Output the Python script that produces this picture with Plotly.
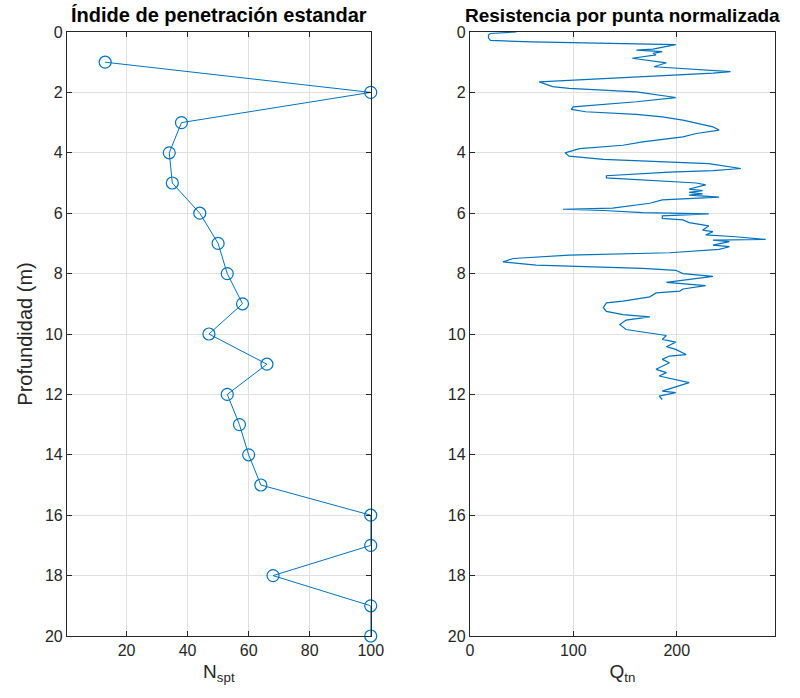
import plotly.graph_objects as go
from plotly.subplots import make_subplots

# Standard penetration test blow counts by depth
spt_depth = [1, 2, 3, 4, 5, 6, 7, 8, 9, 10, 11, 12, 13, 14, 15, 16, 17, 18, 19, 20]
spt_n = [13, 100, 38, 34, 35, 44, 50, 53, 58, 47, 66, 53, 57, 60, 64, 100, 100, 68, 100, 100]

# Normalized cone tip resistance profile
cpt_depth = [
    0.00, 0.02, 0.05, 0.10, 0.20, 0.28, 0.33, 0.42, 0.57, 0.60, 0.65, 0.71, 0.76,
    0.87, 1.02, 1.15, 1.20, 1.31, 1.36, 1.65, 1.81, 1.87, 1.98, 2.17, 2.31, 2.48,
    2.56, 2.64, 2.73, 2.81, 2.92, 3.03, 3.14, 3.25, 3.36, 3.47, 3.64, 3.75, 3.86,
    4.00, 4.11, 4.22, 4.31, 4.36, 4.52, 4.59, 4.64, 4.76, 4.83, 4.94, 5.00, 5.06,
    5.20, 5.25, 5.31, 5.36, 5.40, 5.47, 5.56, 5.67, 5.83, 5.87, 5.91, 5.98, 6.02,
    6.09, 6.17, 6.22, 6.31, 6.42, 6.56, 6.61, 6.72, 6.78, 6.87, 6.89, 6.94, 7.06,
    7.11, 7.20, 7.31, 7.39, 7.50, 7.61, 7.72, 7.83, 7.89, 8.00, 8.09, 8.29, 8.40,
    8.51, 8.58, 8.64, 8.77, 8.91, 8.97, 9.13, 9.25, 9.36, 9.43, 9.54, 9.69, 9.85,
    9.96, 10.05, 10.18, 10.27, 10.42, 10.51, 10.68, 10.73, 10.84, 10.95, 11.17,
    11.28, 11.39, 11.50, 11.61, 11.89, 11.94, 12.06, 12.17,
]
cpt_qtn = [
    45, 30, 20, 18, 18, 20, 60, 199, 177, 161, 186, 177, 180,
    157, 190, 178, 200, 252, 235, 67, 80, 96, 161, 199, 161, 100,
    98, 112, 161, 186, 206, 222, 235, 241, 219, 206, 167, 148, 106,
    92, 96, 129, 193, 231, 262, 235, 193, 132, 132, 193, 219, 228,
    212, 225, 212, 225, 212, 241, 186, 174, 138, 90, 129, 167, 231,
    186, 186, 206, 212, 231, 225, 235, 228, 257, 286, 235, 251, 235,
    251, 241, 193, 96, 42, 32, 64, 167, 199, 206, 235, 190, 228,
    206, 203, 180, 174, 148, 132, 129, 132, 148, 174, 151, 145, 151,
    174, 190, 186, 199, 190, 199, 209, 193, 186, 193, 180,
    190, 183, 199, 212, 186, 199, 183, 186,
]

blue = "#0072BD"
axis_col = "#262626"
grid_col = "#e0e0e0"
font_family = "Liberation Sans, Arial, sans-serif"

fig = make_subplots(rows=1, cols=2, horizontal_spacing=0.14)

fig.add_trace(
    go.Scatter(
        x=spt_n, y=spt_depth, mode="lines+markers",
        line=dict(color=blue, width=1),
        marker=dict(symbol="circle-open", size=12, color=blue, line=dict(width=1.2)),
        cliponaxis=False, showlegend=False,
    ),
    row=1, col=1,
)
fig.add_trace(
    go.Scatter(
        x=cpt_qtn, y=cpt_depth, mode="lines",
        line=dict(color=blue, width=1.2),
        showlegend=False,
    ),
    row=1, col=2,
)

common_axis = dict(
    showline=True, linecolor=axis_col, linewidth=1.2, mirror="ticks",
    ticks="inside", ticklen=5, tickcolor=axis_col, tickwidth=1,
    showgrid=True, gridcolor=grid_col, gridwidth=1, zeroline=False,
    tickfont=dict(family=font_family, size=16, color=axis_col),
)

fig.update_xaxes(
    range=[0.5, 100], tickvals=[20, 40, 60, 80, 100],
    domain=[0.0, 0.429],
    title=dict(text="N<sub>spt</sub>", font=dict(family=font_family, size=19, color=axis_col), standoff=6),
    **common_axis, row=1, col=1,
)
fig.update_xaxes(
    range=[0, 295], tickvals=[0, 100, 200],
    domain=[0.569, 1.0],
    title=dict(text="Q<sub>tn</sub>", font=dict(family=font_family, size=19, color=axis_col), standoff=6),
    **common_axis, row=1, col=2,
)
fig.update_yaxes(
    range=[20, 0], tickvals=list(range(0, 21, 2)),
    title=dict(text="Profundidad (m)", font=dict(family=font_family, size=20, color=axis_col), standoff=6),
    **common_axis, row=1, col=1,
)
fig.update_yaxes(
    range=[20, 0], tickvals=list(range(0, 21, 2)),
    **common_axis, row=1, col=2,
)

fig.add_annotation(
    text="<b>Índide de penetración estandar</b>", x=0.2145, y=1.0,
    xref="paper", yref="paper", xanchor="center", yanchor="bottom",
    yshift=4, showarrow=False,
    font=dict(family=font_family, size=20, color="#000000"),
)
fig.add_annotation(
    text="<b>Resistencia por punta normalizada</b>", x=0.7845, y=1.0,
    xref="paper", yref="paper", xanchor="center", yanchor="bottom",
    yshift=4, showarrow=False,
    font=dict(family=font_family, size=19, color="#000000"),
)

fig.update_layout(
    width=800, height=698,
    margin=dict(l=67, r=20, t=32, b=62),
    paper_bgcolor="white", plot_bgcolor="white",
    font=dict(family=font_family, color=axis_col),
)

fig.write_html("out.html")
